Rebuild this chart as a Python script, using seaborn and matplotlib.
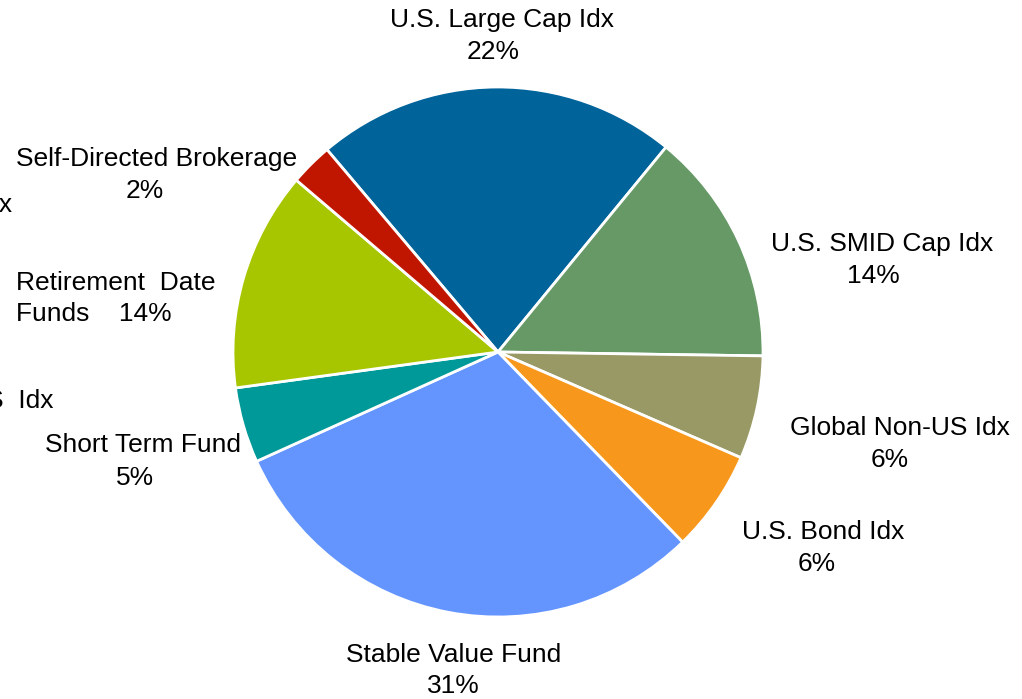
import matplotlib
matplotlib.use("Agg")
import matplotlib.pyplot as plt
import seaborn as sns

categories = ["U.S. Large Cap Idx", "U.S. SMID Cap Idx", "Global Non-US Idx",
              "U.S. Bond Idx", "Stable Value Fund", "Short Term Fund",
              "Retirement Date Funds", "Self-Directed Brokerage"]
values = [22.1, 14.3, 6.3, 6.2, 30.5, 4.6, 13.4, 2.6]
pct_labels = ["22%", "14%", "6%", "6%", "31%", "5%", "14%", "2%"]
colors = ["#00639A", "#669966", "#999966", "#F7981D",
          "#6495FF", "#009999", "#A8C600", "#C01600"]

sns.set_theme(style="white")
plt.rcParams['font.family'] = ['Liberation Sans', 'DejaVu Sans']
plt.rcParams['text.color'] = 'black'

W, H = 1022, 699
fig = plt.figure(figsize=(W / 100, H / 100), dpi=100)
ax = fig.add_axes([0, 0, 1, 1])

palette = sns.color_palette(colors)
cx, cy, r = 498, H - 352, 265
ax.pie(values, colors=palette, startangle=130.2, counterclock=False,
       center=(cx, cy), radius=r, frame=True,
       wedgeprops=dict(edgecolor="white", linewidth=2))
ax.set_xlim(0, W)
ax.set_ylim(0, H)
ax.set_aspect("auto")
ax.axis("off")

fs = 19
# label layout (pixel positions of each line centre)
layout = [
    ((502, 20), (493, 52)),
    ((882, 244), (873, 276)),
    ((900, 428), (890, 460)),
    ((823, 532), (817, 564)),
    ((454, 655), (453, 686)),
    ((143, 445), (135, 478)),
    None,
    ((157, 159), (145, 191)),
]
for name, pct, pos in zip(categories, pct_labels, layout):
    if pos is None:
        continue
    (x1, y1), (x2, y2) = pos
    ax.text(x1, H - y1, name, ha="center", va="center", fontsize=fs, color="black")
    ax.text(x2, H - y2, pct, ha="center", va="center", fontsize=fs, color="black")

# Retirement Date Funds label (left aligned)
ax.text(16, H - 283, "Retirement  Date", ha="left", va="center", fontsize=fs, color="black")
ax.text(16, H - 314, "Funds    " + pct_labels[6], ha="left", va="center", fontsize=fs, color="black")

# clipped label fragments at the left edge
ax.text(13, H - 205, "Idx", ha="right", va="center", fontsize=fs, color="black", clip_on=False)
ax.text(53, H - 401, "Non-US  Idx", ha="right", va="center", fontsize=fs, color="black", clip_on=False)

fig.savefig("out.png", dpi=100)
